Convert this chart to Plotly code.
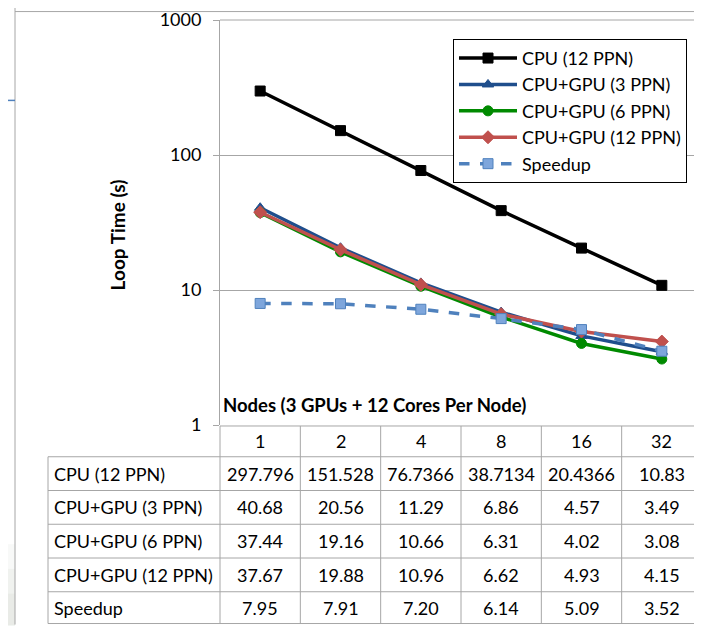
import plotly.graph_objects as go

# ---- data ----
nodes = ["1", "2", "4", "8", "16", "32"]
cpu_12 = [297.796, 151.528, 76.7366, 38.7134, 20.4366, 10.83]
gpu_3 = [40.68, 20.56, 11.29, 6.86, 4.57, 3.49]
gpu_6 = [37.44, 19.16, 10.66, 6.31, 4.02, 3.08]
gpu_12 = [37.67, 19.88, 10.96, 6.62, 4.93, 4.15]
speedup = [7.95, 7.91, 7.20, 6.14, 5.09, 3.52]
series_names = ["CPU (12 PPN)", "CPU+GPU (3 PPN)", "CPU+GPU (6 PPN)", "CPU+GPU (12 PPN)", "Speedup"]
y_ticks = [1, 10, 100, 1000]
x_title = "Nodes (3 GPUs + 12 Cores Per Node)"
y_title = "Loop Time (s)"

# ---- geometry (reference pixels; page body has an 8px margin) ----
OFF = 8
W, Hh = 702 - OFF, 627 - OFF
PL, PR, PT, PB = 220, 702, 17, 425
PW, PH = PR - PL, PB - PT

def px(x):
    return (x - PL) / PW

def py(y):
    return (PB - y) / PH

FONT = "Lato, 'Open Sans', sans-serif"
FS = 18
GRID = "#a6a6a6"

xs = list(range(len(nodes)))
fig = go.Figure()

styles = [
    dict(color="#000000", dash="solid", symbol="square", msize=10, mfill="#000000"),
    dict(color="#1f4e8c", dash="solid", symbol="triangle-up", msize=10, mfill="#1f4e8c"),
    dict(color="#008a00", dash="solid", symbol="circle", msize=10, mfill="#008a00"),
    dict(color="#c0504d", dash="solid", symbol="diamond", msize=10, mfill="#c0504d"),
    dict(color="#4f81bd", dash="dash", symbol="square", msize=10, mfill="#7ea6dc"),
]
all_series = [cpu_12, gpu_3, gpu_6, gpu_12, speedup]

for name, vals, st in zip(series_names, all_series, styles):
    fig.add_trace(go.Scatter(
        x=xs, y=vals, name=name, mode="lines+markers",
        line=dict(color=st["color"], width=3.5, dash=st["dash"]),
        marker=dict(symbol=st["symbol"], size=st["msize"], color=st["mfill"],
                    line=dict(color=st["color"], width=1)),
        legendgroup=name,
    ))

shapes = []
ann = []

def line(x0, y0, x1, y1, color=GRID, width=1, xref="paper", layer="above"):
    shapes.append(dict(type="line", xref=xref, yref="paper",
                       x0=x0, y0=y0, x1=x1, y1=y1,
                       line=dict(color=color, width=width), layer=layer))

# outer frame
line(px(15), py(OFF + 0.5), px(702), py(OFF + 0.5))
line(px(15), py(4), px(15), py(626))
# top gridline (1000)
line(0, 1, 1, 1, layer="below")
# top-left blue line fragment
line(px(OFF), py(98), px(15), py(98), color="#4f81bd", width=1.5)
# faint gradient bottom-left
for top, op in [(545, 0.10), (570, 0.12), (595, 0.14)]:
    shapes.append(dict(type="rect", xref="paper", yref="paper",
                       x0=px(OFF), x1=px(15), y0=py(top), y1=py(627),
                       fillcolor="rgba(190,200,185,%s)" % op, line=dict(width=0), layer="below"))

# table grid
row_lines = [426, 457, 491, 525, 559, 593, 625]
line(px(220), py(row_lines[0]), px(702), py(row_lines[0]))
for yl in row_lines[1:]:
    line(px(48), py(yl), px(702), py(yl))
line(px(48), py(row_lines[1]), px(48), py(row_lines[-1]))
line(px(220), py(row_lines[0]), px(220), py(row_lines[-1]))
for i in range(1, len(nodes) + 1):
    line(i - 0.5, py(row_lines[0]), i - 0.5, py(row_lines[-1]), xref="x")

def cell_text(x, y, text, xref="x", xanchor="center"):
    ann.append(dict(x=x, y=y, xref=xref, yref="paper", text=text,
                    showarrow=False, xanchor=xanchor, yanchor="middle",
                    font=dict(family=FONT, size=FS, color="#000000")))

# header row (node counts)
hdr_c = (row_lines[0] + row_lines[1]) / 2
for i, n in enumerate(nodes):
    cell_text(i, py(hdr_c), n)

def fmt(v, k):
    return str(v) if k == 0 else "%.2f" % v

for k, (name, vals) in enumerate(zip(series_names, all_series)):
    yc = py((row_lines[k + 1] + row_lines[k + 2]) / 2)
    cell_text(px(52), yc, name, xref="paper", xanchor="left")
    for i, v in enumerate(vals):
        cell_text(i, yc, fmt(v, k))

# axis titles
ann.append(dict(x=px(221), y=py(405), xref="paper", yref="paper", text="<b>%s</b>" % x_title,
                showarrow=False, xanchor="left", yanchor="middle",
                font=dict(family=FONT, size=18.5, color="#000000")))
ann.append(dict(x=px(117), y=py(234), xref="paper", yref="paper", text="<b>%s</b>" % y_title,
                showarrow=False, textangle=-90, xanchor="center", yanchor="middle",
                font=dict(family=FONT, size=19, color="#000000")))

fig.update_layout(
    width=W, height=Hh,
    margin=dict(l=PL - OFF, r=(702 - OFF) - (PR - OFF), t=PT - OFF, b=(627 - OFF) - (PB - OFF), pad=0),
    paper_bgcolor="white", plot_bgcolor="white",
    font=dict(family=FONT, size=FS, color="#000000"),
    showlegend=True,
    legend=dict(x=px(453), y=py(36), xanchor="left", yanchor="top",
                bgcolor="white", bordercolor="#000000", borderwidth=1,
                font=dict(family=FONT, size=FS, color="#000000"),
                traceorder="normal", itemwidth=58),
    shapes=shapes, annotations=ann,
)
fig.update_xaxes(range=[-0.5, len(nodes) - 0.5], showgrid=False, zeroline=False,
                 showticklabels=False, showline=False, ticks="")
fig.update_yaxes(type="log", range=[0, 3], tickvals=y_ticks, ticktext=[str(t) for t in y_ticks],
                 showgrid=True, gridcolor=GRID, gridwidth=1, showline=True, linecolor=GRID,
                 linewidth=1, ticks="outside", ticklen=6, tickcolor=GRID,
                 tickfont=dict(family=FONT, size=FS, color="#000000"),
                 ticklabelstandoff=8, ticklabeloverflow="allow", zeroline=False)

fig.write_html("out.html")
